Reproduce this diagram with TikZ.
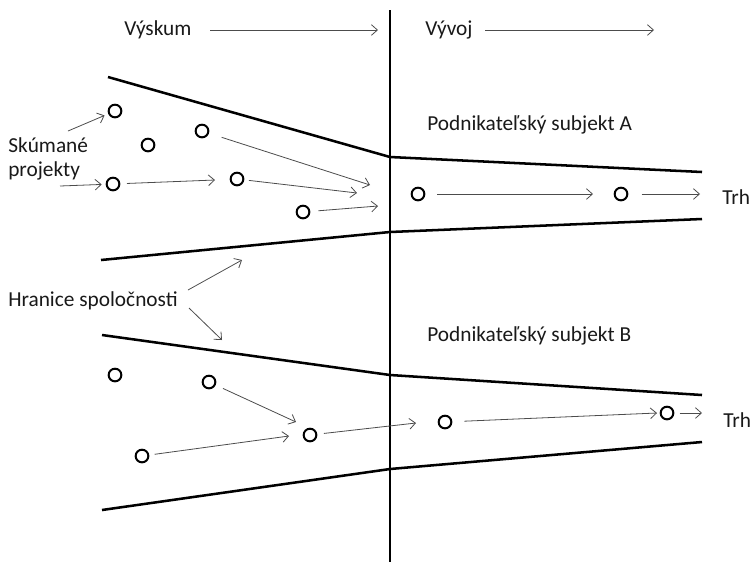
\documentclass[tikz,border=0pt]{standalone}
\usepackage{fontspec}
\setmainfont{Carlito}
\usetikzlibrary{arrows.meta}
\tikzset{
  bound/.style={line width=1.9pt, black},
  axis/.style={line width=1.5pt, black},
  proj/.style={circle, draw=black, line width=1.5pt, inner sep=0pt, minimum size=9.5pt},
  flow/.style={line width=0.6pt, draw=black!70, -{Straight Barb[length=4.5pt,width=8pt,line width=0.6pt]}},
  lbl/.style={anchor=base west, inner sep=0pt, text=black!90, font=\fontsize{16}{19}\selectfont}
}
\begin{document}
\begin{tikzpicture}[x=0.75pt, y=-0.75pt]
\useasboundingbox (0,0) rectangle (752,562);
% vertical divider
\coordinate (vtop) at (390,10);
\coordinate (vbot) at (390,562);
\draw[axis] (vtop) -- (vbot);
% top labels
\node[lbl] (vyskum) at (124,35) {Výskum};
\node[lbl] (vyvoj) at (425,35) {Vývoj};
\coordinate (vs1) at (210,30); \coordinate (vs2) at (378,30);
\coordinate (vv1) at (485,30); \coordinate (vv2) at (654,30);
\draw[flow] (vs1) -- (vs2);
\draw[flow] (vv1) -- (vv2);
% funnel A
\coordinate (au0) at (108,77); \coordinate (au1) at (390,157); \coordinate (au2) at (702,172);
\coordinate (al0) at (101,260); \coordinate (al1) at (390,232); \coordinate (al2) at (702,219);
\draw[bound] (au0) -- (au1) -- (au2);
\draw[bound] (al0) -- (al1) -- (al2);
% funnel B
\coordinate (bu0) at (102,335); \coordinate (bu1) at (390,375); \coordinate (bu2) at (702,395);
\coordinate (bl0) at (102,510); \coordinate (bl1) at (390,469); \coordinate (bl2) at (702,442);
\draw[bound] (bu0) -- (bu1) -- (bu2);
\draw[bound] (bl0) -- (bl1) -- (bl2);
% labels
\node[lbl] (skum) at (8,152) {Skúmané};
\node[lbl] (proj) at (8,176) {projekty};
\node[lbl] (subA) at (427,130) {Podnikateľský subjekt A};
\node[lbl] (trhA) at (722,204) {Trh};
\node[lbl] (hran) at (8,306) {Hranice spoločnosti};
\node[lbl] (subB) at (427,341) {Podnikateľský subjekt B};
\node[lbl] (trhB) at (723,427) {Trh};
% projects A
\node[proj] (a1) at (115,111) {};
\node[proj] (a2) at (148,145) {};
\node[proj] (a3) at (202,131) {};
\node[proj] (a4) at (113,184) {};
\node[proj] (a5) at (237,179) {};
\node[proj] (a6) at (303,212) {};
\node[proj] (a7) at (418,194) {};
\node[proj] (a8) at (621,194) {};
% projects B
\node[proj] (b1) at (115,375) {};
\node[proj] (b2) at (209,382) {};
\node[proj] (b3) at (310,435) {};
\node[proj] (b4) at (142,456) {};
\node[proj] (b5) at (445,422) {};
\node[proj] (b6) at (667,413) {};
% arrows A
\coordinate (s1) at (68,131); \coordinate (s2) at (60,186);
\draw[flow, shorten >=3pt] (s1) -- (a1);
\draw[flow, shorten >=3pt] (s2) -- (a4);
\coordinate (e3) at (215,180);
\coordinate (e4) at (357,193);
\coordinate (e5) at (370,185);
\coordinate (e6) at (378,206);
\coordinate (e7) at (593,194);
\coordinate (e8) at (700,194);
\draw[flow, shorten <=5pt] (a4) -- (e3);
\draw[flow, shorten <=3.5pt] (a5) -- (e4);
\draw[flow, shorten <=10pt] (a3) -- (e5);
\draw[flow, shorten <=6pt] (a6) -- (e6);
\draw[flow, shorten <=9pt] (a7) -- (e7);
\draw[flow, shorten <=10pt] (a8) -- (e8);
% Hranice arrows
\coordinate (h0) at (188,290); \coordinate (h1) at (242,260);
\coordinate (h2) at (189,308); \coordinate (h3) at (222,340);
\draw[flow] (h0) -- (h1);
\draw[flow] (h2) -- (h3);
% arrows B
\coordinate (f2) at (296,422);
\coordinate (f4) at (289,436);
\coordinate (f3) at (416,423);
\coordinate (f5) at (657,413);
\coordinate (f6) at (702,413);
\draw[flow, shorten <=6pt] (b2) -- (f2);
\draw[flow, shorten <=4pt] (b4) -- (f4);
\draw[flow, shorten <=5pt] (b3) -- (f3);
\draw[flow, shorten <=9pt] (b5) -- (f5);
\draw[flow, shorten <=4pt] (b6) -- (f6);
\end{tikzpicture}
\end{document}
